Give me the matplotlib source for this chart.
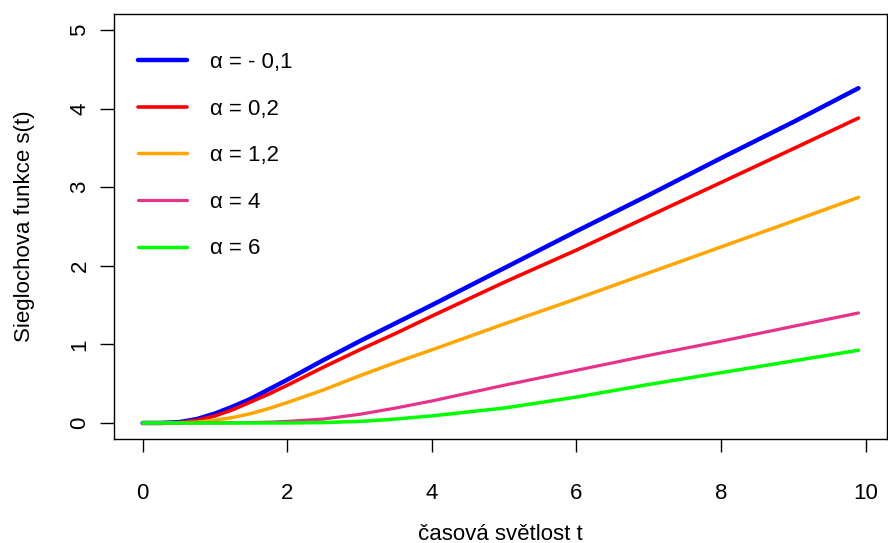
import matplotlib
matplotlib.use("Agg")
import matplotlib.pyplot as plt

# časová osa a odečtené hodnoty Sieglochovy funkce
t = [0, 0.25, 0.5, 0.75, 1, 1.25, 1.5, 1.75, 2, 2.5, 3, 3.5, 4, 5, 6, 7, 8, 9, 9.9]
s_minus01 = [0, 0.0, 0.01, 0.05, 0.12, 0.21, 0.31, 0.43, 0.55, 0.80, 1.04, 1.27, 1.50, 1.97, 2.44, 2.90, 3.37, 3.83, 4.26]
s_02 = [0, 0.0, 0.005, 0.035, 0.09, 0.17, 0.27, 0.37, 0.48, 0.71, 0.93, 1.14, 1.36, 1.79, 2.20, 2.63, 3.06, 3.49, 3.88]
s_12 = [0, 0, 0, 0.01, 0.035, 0.07, 0.12, 0.185, 0.26, 0.42, 0.60, 0.77, 0.93, 1.26, 1.58, 1.91, 2.24, 2.57, 2.87]
s_4 = [0, 0, 0, 0, 0, 0.002, 0.005, 0.01, 0.02, 0.05, 0.11, 0.19, 0.28, 0.48, 0.67, 0.86, 1.04, 1.23, 1.40]
s_6 = [0, 0, 0, 0, 0, 0, 0, 0, 0, 0.005, 0.02, 0.05, 0.09, 0.19, 0.33, 0.49, 0.64, 0.79, 0.925]

labels = ["α = - 0,1", "α = 0,2", "α = 1,2", "α = 4", "α = 6"]
colors = ["#0000FF", "#FF0000", "#FFA500", "#E5338A", "#00FF00"]
widths = [3.2, 2.6, 2.5, 2.3, 2.5]

plt.rcParams["font.family"] = ["Liberation Sans", "DejaVu Sans"]

fig = plt.figure(figsize=(8.88, 5.43), dpi=100)
ax = fig.add_axes([0.1284, 0.1921, 0.8706, 0.7816])

for ys, lab, c, lw in zip([s_minus01, s_02, s_12, s_4, s_6], labels, colors, widths):
    ax.plot(t, ys, color=c, lw=lw, label=lab, solid_capstyle="round")

ax.set_xlim(-0.396, 10.296)
ax.set_ylim(-0.2, 5.2)
ax.set_xticks([0, 2, 4, 6, 8, 10])
ax.set_yticks([0, 1, 2, 3, 4, 5])

for sp in ax.spines.values():
    sp.set_linewidth(1.0)
    sp.set_color("black")

ax.tick_params(axis="x", length=9, width=1, pad=23, labelsize=16)
ax.tick_params(axis="y", length=10, width=1, pad=7, labelsize=16, labelrotation=90)
for lbl in ax.get_yticklabels():
    lbl.set_va("center")

ax.set_xlabel("časová světlost t", fontsize=16, labelpad=14)
ax.set_ylabel("Sieglochova funkce s(t)", fontsize=16, labelpad=25)

ax.legend(loc="upper left", bbox_to_anchor=(-0.0065, 0.979), frameon=False, fontsize=16,
          handlelength=2.2, handletextpad=1.05, labelspacing=1.15, borderaxespad=0.9)

fig.savefig("out.png", dpi=100)
